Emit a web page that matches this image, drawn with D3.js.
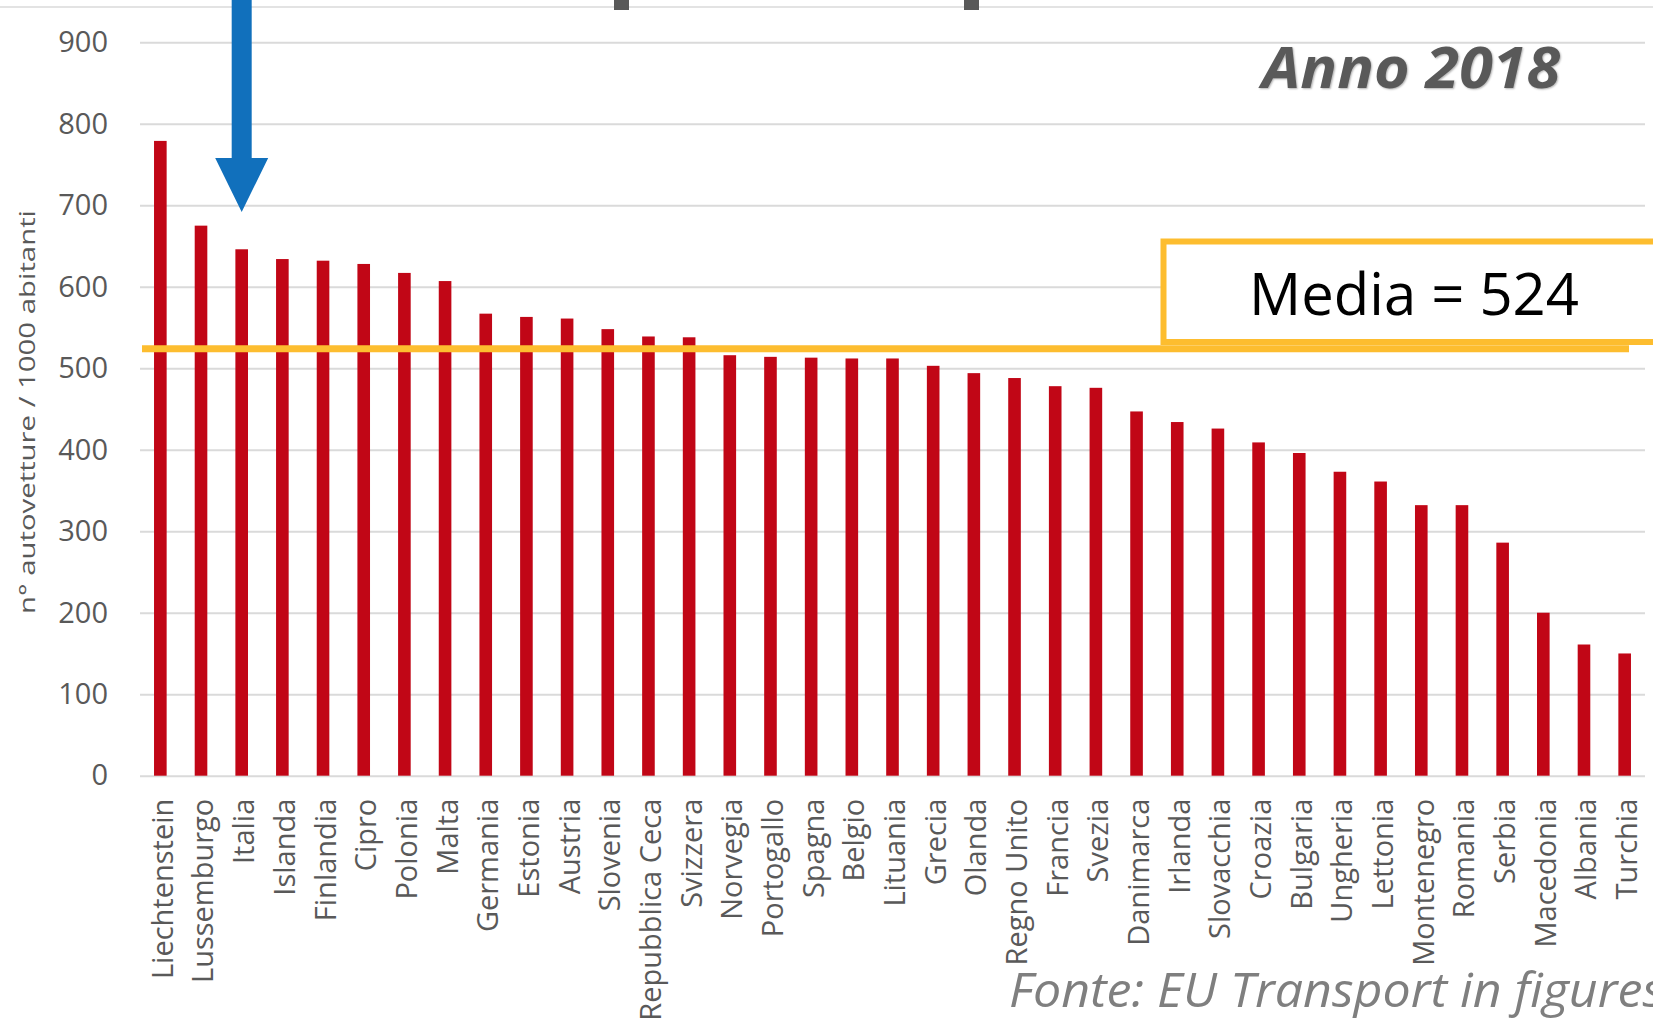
<!DOCTYPE html>
<html>
<head>
<meta charset="utf-8">
<script src="https://cdn.jsdelivr.net/npm/d3@7"></script>
<style>
  body { margin: 0; background: #fff; }
  svg { display: block; font-family: 'Open Sans', sans-serif; }
</style>
</head>
<body>
<div class="display"></div>
<script>
const width = 1653;
const height = 1020;

const countries = ['Liechtenstein', 'Lussemburgo', 'Italia', 'Islanda', 'Finlandia', 'Cipro', 'Polonia', 'Malta',
    'Germania', 'Estonia', 'Austria', 'Slovenia', 'Repubblica Ceca', 'Svizzera', 'Norvegia', 'Portogallo',
    'Spagna', 'Belgio', 'Lituania', 'Grecia', 'Olanda', 'Regno Unito', 'Francia', 'Svezia', 'Danimarca',
    'Irlanda', 'Slovacchia', 'Croazia', 'Bulgaria', 'Ungheria', 'Lettonia', 'Montenegro', 'Romania',
    'Serbia', 'Macedonia', 'Albania', 'Turchia'];
const values = [779, 675, 646, 634, 632, 628, 617, 607,
    567, 563, 561, 548, 539, 538, 516, 514,
    513, 512, 512, 503, 494, 488, 478, 476, 447,
    434, 426, 409, 396, 373, 361, 332, 332,
    286, 200, 161, 150];
const yTicks = [0, 100, 200, 300, 400, 500, 600, 700, 800, 900];
const media = 524;

const plotLeft = 140;
const plotRight = 1645;

const svg = d3.select('.display')
    .append('svg')
    .attr('width', width)
    .attr('height', height)
    .style('background-color', 'white');

const xScale = d3.scaleBand()
    .domain(countries)
    .range([plotLeft, plotRight])
    .paddingInner(0.69)
    .paddingOuter(0.345);

const yScale = d3.scaleLinear()
    .domain([0, 900])
    .range([775.7, 42.3]);

// faint line and bits of the cropped title at the very top
svg.append('line')
    .attr('x1', 0).attr('x2', width)
    .attr('y1', 7).attr('y2', 7)
    .attr('stroke', '#e3e3e3')
    .attr('stroke-width', 2);
[614, 964].forEach(x => {
    svg.append('rect')
        .attr('x', x).attr('y', 0)
        .attr('width', 15).attr('height', 10)
        .attr('fill', '#595959');
});

// y axis with gridlines
const yAxis = d3.axisLeft(yScale)
    .tickValues(yTicks)
    .tickSize(-(plotRight - plotLeft))
    .tickPadding(32);

svg.append('g')
    .attr('id', 'y-axis')
    .attr('transform', `translate(${plotLeft}, 0)`)
    .call(yAxis)
    .call(g => g.select('.domain').remove())
    .call(g => g.selectAll('line').attr('stroke', '#dadada').attr('stroke-width', 2))
    .call(g => g.selectAll('text')
        .attr('fill', '#595959')
        .style('font-size', '29px')
        .style('font-family', "'Open Sans', sans-serif"));

// x axis labels
const xAxis = d3.axisBottom(xScale).tickSize(0);

svg.append('g')
    .attr('id', 'x-axis')
    .attr('transform', `translate(0, ${yScale(0)})`)
    .call(xAxis)
    .call(g => g.select('.domain').remove())
    .call(g => g.selectAll('text')
        .attr('transform', 'rotate(-90)')
        .attr('text-anchor', 'end')
        .attr('x', -23)
        .attr('y', 0)
        .attr('dy', '0.43em')
        .attr('fill', '#595959')
        .style('font-size', '29px')
        .style('font-family', "'Open Sans', sans-serif"));

// bars
svg.selectAll('rect.bar')
    .data(countries)
    .enter()
    .append('rect')
    .attr('class', 'bar')
    .attr('x', d => xScale(d))
    .attr('y', (d, i) => yScale(values[i]))
    .attr('width', xScale.bandwidth())
    .attr('height', (d, i) => yScale(0) - yScale(values[i]))
    .attr('fill', '#c10616');

// mean line
svg.append('line')
    .attr('x1', 142).attr('x2', 1629)
    .attr('y1', yScale(media)).attr('y2', yScale(media))
    .attr('stroke', '#fdbd2f')
    .attr('stroke-width', 7);

// label box for the mean
svg.append('rect')
    .attr('x', 1163.5)
    .attr('y', 241.5)
    .attr('width', 600)
    .attr('height', 100.5)
    .attr('fill', 'white')
    .attr('stroke', '#fdbd2f')
    .attr('stroke-width', 6);

svg.append('text')
    .attr('x', 1414)
    .attr('y', 315)
    .attr('text-anchor', 'middle')
    .attr('fill', '#000')
    .style('font-size', '58px')
    .text(`Media = ${media}`);

// y axis title
svg.append('text')
    .attr('transform', 'translate(35, 412) rotate(-90)')
    .attr('text-anchor', 'middle')
    .attr('fill', '#595959')
    .attr('textLength', 404)
    .attr('lengthAdjust', 'spacingAndGlyphs')
    .style('font-size', '22px')
    .text('n° autovetture / 1000 abitanti');

// year label
svg.append('text')
    .attr('x', 1262)
    .attr('y', 88)
    .attr('fill', '#595959')
    .attr('textLength', 298)
    .attr('lengthAdjust', 'spacingAndGlyphs')
    .style('font-size', '57px')
    .style('font-weight', 'bold')
    .style('font-style', 'italic')
    .style('text-shadow', '1px 1px 2px rgba(0,0,0,0.3)')
    .text('Anno 2018');

// source
svg.append('text')
    .attr('x', 1009)
    .attr('y', 1007)
    .attr('fill', '#7f7f7f')
    .attr('textLength', 655)
    .attr('lengthAdjust', 'spacingAndGlyphs')
    .style('font-size', '48px')
    .style('font-style', 'italic')
    .text('Fonte: EU Transport in figures');

// arrow pointing at Italia
const ax = xScale('Italia') + xScale.bandwidth() / 2;
const arrow = d3.path();
arrow.moveTo(ax - 10, 0);
arrow.lineTo(ax + 10, 0);
arrow.lineTo(ax + 10, 158);
arrow.lineTo(ax + 26.5, 158);
arrow.lineTo(ax, 212);
arrow.lineTo(ax - 26.5, 158);
arrow.lineTo(ax - 10, 158);
arrow.closePath();
svg.append('path')
    .attr('d', arrow.toString())
    .attr('fill', '#1170bc');
</script>
</body>
</html>
